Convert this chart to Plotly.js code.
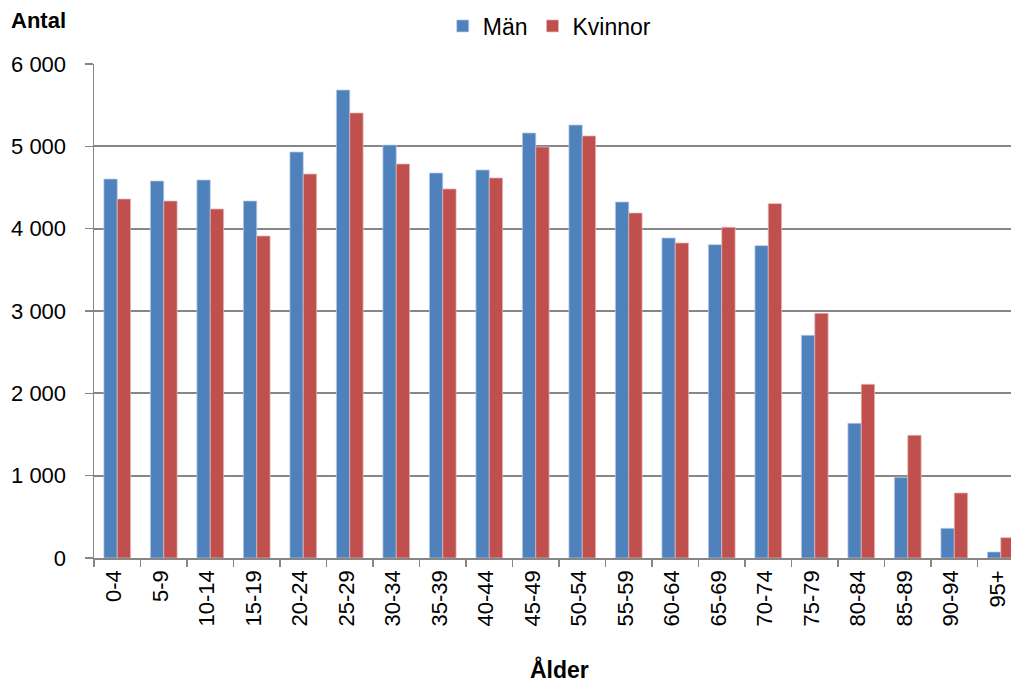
<!DOCTYPE html>
<html>
<head>
<meta charset="utf-8">
<script src="https://cdn.plot.ly/plotly-3.0.1.min.js"></script>
<style>html,body{margin:0;padding:0;background:#fff;}#chart{width:1011px;height:684px;}</style>
</head>
<body>
<div id="chart"></div>
<script>
const ageGroups = ["0-4","5-9","10-14","15-19","20-24","25-29","30-34","35-39","40-44","45-49","50-54","55-59","60-64","65-69","70-74","75-79","80-84","85-89","90-94","95+"];
const man = [4603,4579,4591,4336,4931,5684,5016,4676,4713,5162,5259,4324,3887,3806,3794,2705,1636,980,361,73];
const kvinnor = [4360,4336,4239,3911,4664,5405,4785,4482,4616,4992,5126,4190,3826,4017,4304,2972,2110,1490,790,247];
const yTicks = [0,1000,2000,3000,4000,5000,6000];
const yTickText = ["0","1 000","2 000","3 000","4 000","5 000","6 000"];

const FONT = "Liberation Sans, Arial, sans-serif";
const traces = [
  {type:"bar", name:"Män", x:ageGroups, y:man,
   marker:{color:"#4F81BD", line:{color:"rgba(185,205,229,0.9)", width:0.8}}},
  {type:"bar", name:"Kvinnor", x:ageGroups, y:kvinnor,
   marker:{color:"#C0504D", line:{color:"rgba(229,185,183,0.9)", width:0.8}}}
];
const layout = {
  width:1011, height:684,
  margin:{l:94, r:0, t:64, b:126},
  paper_bgcolor:"#fff", plot_bgcolor:"#fff",
  font:{family:FONT, size:22, color:"#000"},
  barmode:"group", bargap:0.426, bargroupgap:0,
  showlegend:true,
  legend:{orientation:"h", x:0.497, xanchor:"center", y:1.077, yanchor:"middle",
          font:{family:FONT, size:23}, itemwidth:30, traceorder:"normal"},
  xaxis:{type:"category", range:[-0.5, 19.22], tickangle:-90,
         showline:true, linecolor:"#868686", linewidth:1.5,
         ticks:"outside", ticklen:7, tickcolor:"#868686", tickwidth:1.5,
         tickson:"boundaries", showgrid:false, zeroline:false,
         ticklabelstandoff:2, ticklabelshift:-3,
         tickfont:{family:FONT, size:22}},
  yaxis:{range:[0,6000], tickvals:yTicks, ticktext:yTickText,
         showline:true, linecolor:"#868686", linewidth:1.5,
         ticks:"outside", ticklen:8, tickcolor:"#868686", tickwidth:1.5,
         showgrid:true, gridcolor:"#868686", gridwidth:2, zeroline:false,
         ticklabelstandoff:14,
         tickfont:{family:FONT, size:22}},
  annotations:[
    {text:"<b>Antal</b>", xref:"paper", yref:"paper", x:-0.061, y:1.089,
     xanchor:"center", yanchor:"middle", showarrow:false, font:{family:FONT, size:22}},
    {text:"<b>Ålder</b>", xref:"paper", yref:"paper", x:(559-94)/917, y:(558-669)/494,
     xanchor:"center", yanchor:"middle", showarrow:false, font:{family:FONT, size:23}}
  ]
};
Plotly.newPlot("chart", traces, layout, {displayModeBar:false, staticPlot:true});
</script>
</body>
</html>
